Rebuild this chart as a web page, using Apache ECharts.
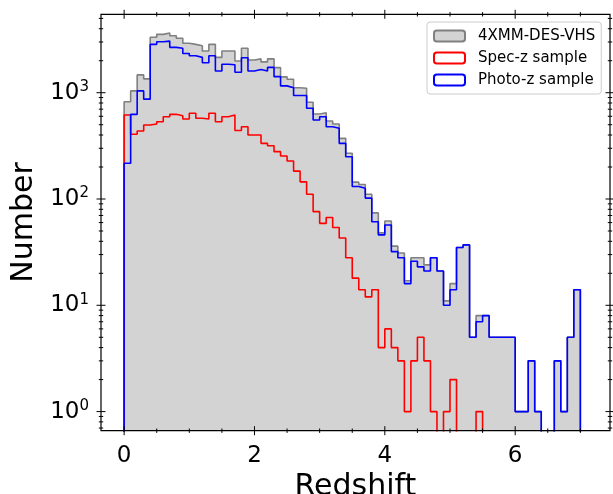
<!DOCTYPE html>
<html><head><meta charset="utf-8">
<script src="https://cdn.jsdelivr.net/npm/echarts@6/dist/echarts.min.js"></script>
<style>html,body{margin:0;padding:0;background:#fff}#c{width:613px;height:494px}</style>
</head><body><div id="c"></div>
<script>
// ---- data: histogram counts per redshift bin (bin width 0.1, from z = 0 to 7.0) ----
const BIN_WIDTH = 0.1;
const allCounts = [
  823, 1040, 1470, 1350, 3320, 3540, 3650, 3440, 3250, 2920,
  2850, 2770, 2470, 2850, 2150, 2470, 2470, 1990, 2620, 2030,
  2080, 1950, 2080, 1720, 1410, 1340, 1115, 1100, 813, 631,
  649, 542, 508, 372, 269, 144, 137, 111, 74, 48,
  62, 36, 31, 17, 28, 28, 24, 28, 21, 11,
  16, 35, 37, 5, 8, 8, 5, 5, 5, 5,
  1, 1, 3, 1, 0, 0, 3, 1, 5, 14
];
const specCounts = [
  617, 406, 436, 497, 508, 533, 595, 626, 608, 566,
  640, 575, 566, 640, 533, 595, 617, 441, 479, 400,
  400, 334, 317, 279, 254, 228, 183, 145, 111, 76,
  59, 67, 54, 43, 28, 18, 14, 12, 14, 4,
  6, 4, 3, 1, 3, 5, 3, 1, 0, 1,
  2, 0, 0, 0, 1, 0, 0, 0, 0, 0,
  0, 0, 0, 0, 0, 0, 0, 0, 0, 0
];
const photoCounts = [
  217, 626, 1040, 870, 2850, 3020, 3060, 2670, 2620, 2340,
  2230, 2150, 1915, 2230, 1600, 1850, 1830, 1560, 2130, 1600,
  1650, 1600, 1730, 1416, 1160, 1114, 940, 940, 713, 554,
  595, 479, 463, 334, 250, 131, 126, 102, 61, 46,
  57, 32, 28, 16, 26, 23, 21, 28, 21, 10,
  14, 35, 37, 5, 7, 8, 5, 5, 5, 5,
  1, 1, 3, 1, 0, 0, 3, 1, 5, 14
];
const seriesNames = ['4XMM-DES-VHS', 'Spec-z sample', 'Photo-z sample'];
const xTickValues = [0, 2, 4, 6];
const xMinorTickValues = [0.5, 1, 1.5, 2.5, 3, 3.5, 4.5, 5, 5.5, 6.5, 7];
const yTickValues = [1, 10, 100, 1000];
const yMinorTickValues = [0.7, 0.8, 0.9, 2, 3, 4, 5, 6, 7, 8, 9, 20, 30, 40, 50, 60, 70, 80, 90,
  200, 300, 400, 500, 600, 700, 800, 900, 2000, 3000, 4000, 5000];

const X_MIN = -0.355, X_MAX = 7.455, Y_MIN = 0.661, Y_MAX = 5466;
const FLOOR = 0.01; // empty bins fall below the visible log range
const FONT = 'DejaVu Sans';

function stepPoints(counts) {
  const pts = [[0, FLOOR]];
  counts.forEach((c, i) => {
    const v = c > 0 ? c : FLOOR;
    pts.push([+(i * BIN_WIDTH).toFixed(4), v], [+((i + 1) * BIN_WIDTH).toFixed(4), v]);
  });
  pts.push([+(counts.length * BIN_WIDTH).toFixed(4), FLOOR]);
  return pts;
}

const chart = echarts.init(document.getElementById('c'), null, {renderer: 'canvas'});

function renderFrame(params, api) {
  if (params.dataIndex !== 0) return;
  const cs = params.coordSys;
  const L = cs.x, R = cs.x + cs.width, T = cs.y, B = cs.y + cs.height;
  const children = [];
  const st = {stroke: '#000', lineWidth: 1};
  const seg = (x1, y1, x2, y2) => children.push({type: 'line', shape: {x1, y1, x2, y2}, style: st});
  xTickValues.forEach(v => { const x = api.coord([v, 1])[0]; seg(x, B - 4.5, x, B + 4.5); seg(x, T - 4.5, x, T + 4.5); });
  xMinorTickValues.forEach(v => { const x = api.coord([v, 1])[0]; seg(x, B - 2.2, x, B + 2.2); seg(x, T - 2.2, x, T + 2.2); });
  yTickValues.forEach(v => { const y = api.coord([0, v])[1]; seg(L - 4.5, y, L + 4.5, y); seg(R - 4.5, y, R + 4.5, y); });
  yMinorTickValues.forEach(v => { const y = api.coord([0, v])[1]; seg(L - 2.2, y, L + 2.2, y); seg(R - 2.2, y, R + 2.2, y); });
  children.push({type: 'rect', shape: {x: L, y: T, width: cs.width, height: cs.height},
    style: {fill: 'none', stroke: '#000', lineWidth: 1.2}});
  return {type: 'group', children};
}

const option = {
  animation: false,
  backgroundColor: '#fff',
  grid: {left: 101, right: 3, top: 14.3, bottom: 63.3, containLabel: false, outerBoundsMode: 'none'},
  legend: {
    orient: 'vertical', left: 427, top: 22,
    padding: [5, 6, 5, 6], itemGap: 4, itemWidth: 31, itemHeight: 11,
    backgroundColor: '#fff', borderColor: '#cccccc', borderWidth: 1, borderRadius: 3,
    textStyle: {fontFamily: FONT, fontSize: 15, color: '#000', lineHeight: 18, padding: [0, 0, 0, 8]},
    data: seriesNames
  },
  xAxis: {
    type: 'value', min: X_MIN, max: X_MAX, splitNumber: 4,
    axisLine: {show: false}, axisTick: {show: false}, splitLine: {show: false},
    axisLabel: {
      fontFamily: FONT, fontSize: 23, color: '#000', margin: 14,
      formatter: v => { const r = Math.round(v); return (Math.abs(v - r) < 1e-6 && xTickValues.includes(r)) ? String(r) : ''; }
    },
    name: 'Redshift', nameLocation: 'middle', nameGap: 35,
    nameTextStyle: {fontFamily: FONT, fontSize: 30, color: '#000'}
  },
  yAxis: {
    type: 'log', logBase: 10, min: Y_MIN, max: Y_MAX,
    axisLine: {show: false}, axisTick: {show: false}, splitLine: {show: false}, minorTick: {show: false},
    axisLabel: {
      margin: 12, color: '#000',
      formatter: v => {
        const l = Math.log10(v), n = Math.round(l);
        if (Math.abs(l - n) > 1e-6 || !yTickValues.includes(Math.pow(10, n))) return '';
        return '{b|10}{s|' + n + '}';
      },
      rich: {
        b: {fontFamily: FONT, fontSize: 23, lineHeight: 26, color: '#000'},
        s: {fontFamily: FONT, fontSize: 15, lineHeight: 15, verticalAlign: 'top', color: '#000'}
      }
    },
    name: 'Number', nameLocation: 'middle', nameGap: 58,
    nameTextStyle: {fontFamily: FONT, fontSize: 30, color: '#000'}
  },
  series: [
    // legend swatches (rectangular patches like the reference legend)
    {type: 'bar', name: seriesNames[0], data: [], itemStyle: {color: '#d3d3d3', borderColor: '#808080', borderWidth: 1.5}},
    {type: 'bar', name: seriesNames[1], data: [], itemStyle: {color: '#ffffff', borderColor: '#ff0000', borderWidth: 1.5}},
    {type: 'bar', name: seriesNames[2], data: [], itemStyle: {color: '#ffffff', borderColor: '#0000ff', borderWidth: 1.5}},
    {
      type: 'line', name: seriesNames[0], data: stepPoints(allCounts), symbol: 'none', z: 2,
      lineStyle: {color: '#808080', width: 1.6}, areaStyle: {color: '#d3d3d3', opacity: 1, origin: 'start'}
    },
    {type: 'line', name: seriesNames[1], data: stepPoints(specCounts), symbol: 'none', z: 3,
      lineStyle: {color: '#ff0000', width: 1.6}},
    {type: 'line', name: seriesNames[2], data: stepPoints(photoCounts), symbol: 'none', z: 4,
      lineStyle: {color: '#0000ff', width: 1.6}},
    {type: 'custom', data: [[0, 1]], renderItem: renderFrame, silent: true, z: 10, clip: false}
  ]
};
chart.setOption(option);
</script>
</body></html>
